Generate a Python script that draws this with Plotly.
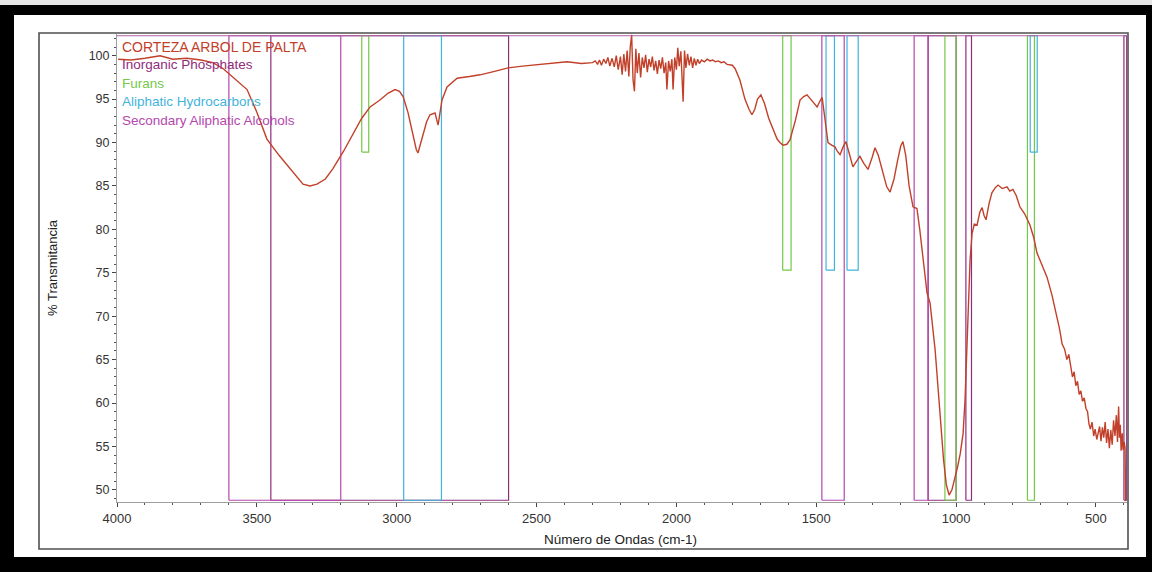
import plotly.graph_objects as go

# ---------------- data ----------------
wavenumber = [
    3996, 3950, 3900, 3846, 3800, 3750, 3700, 3657, 3620, 3596, 3565, 3535, 3500, 3464, 3420,
    3381, 3350, 3335, 3310, 3285, 3255, 3228, 3190, 3156, 3125, 3095, 3060, 3030, 3006, 2990,
    2977, 2960, 2942, 2930, 2924, 2915, 2906, 2893, 2881, 2863, 2852, 2845, 2838, 2820, 2800,
    2784, 2740, 2702, 2650, 2602, 2550, 2488, 2440, 2391, 2340,
    2300, 2290, 2282, 2275, 2268, 2260, 2252, 2245, 2238, 2230, 2222, 2215, 2208, 2200, 2194,
    2188, 2182, 2176, 2170, 2165, 2160, 2155, 2150, 2145, 2140, 2134, 2128, 2122, 2116, 2110,
    2104, 2098, 2092, 2086, 2080, 2074, 2068, 2062, 2056, 2050, 2044, 2038, 2034, 2028, 2022,
    2016, 2012, 2006, 2000, 1995, 1990, 1984, 1980, 1976, 1971, 1966, 1960, 1954, 1948, 1942,
    1936, 1930, 1924, 1918, 1910, 1900, 1890, 1880, 1870, 1860, 1850, 1840, 1830, 1819,
    1800, 1790, 1773, 1755, 1740, 1730, 1720, 1710, 1698, 1685, 1670, 1655, 1640, 1630, 1619,
    1605, 1594, 1575, 1558, 1545, 1533, 1515, 1497, 1488, 1479, 1470, 1458, 1445, 1433, 1425,
    1415, 1404, 1394, 1380, 1369, 1355, 1344, 1330, 1315, 1300, 1290, 1278, 1262, 1248, 1236,
    1222, 1210, 1198, 1190, 1180, 1168, 1154, 1147, 1140, 1130, 1122, 1104, 1093, 1075, 1058,
    1045, 1035, 1025, 1015, 1005, 995, 985, 975, 968, 961, 950, 943, 935, 925, 915, 907, 900,
    893, 882, 872, 860, 850, 835, 818, 808, 797, 785, 772, 755, 736, 722, 711, 693, 675, 657,
    639, 630, 621, 612, 604, 597, 590, 584, 578, 572, 566, 560, 554, 548, 542, 536, 530, 525,
    520, 514, 508, 503, 497, 492, 487, 482, 477, 472, 467, 462, 457, 452, 447, 442, 437, 432,
    427, 423, 419, 416, 413, 410, 406, 403, 399, 396, 394,
]
transmittance = [
    99.6, 99.5, 99.7, 100.0, 99.6, 99.7, 99.5, 99.2, 98.5, 97.8, 97.0, 96.1, 93.5, 90.4, 88.5,
    87.0, 85.8, 85.2, 85.0, 85.2, 85.8, 87.0, 89.0, 91.0, 92.8, 94.1, 94.9, 95.7, 96.1, 95.9,
    95.3, 93.5, 91.1, 89.2, 88.8, 89.8, 91.0, 92.4, 93.2, 93.4, 92.0, 93.5, 94.9, 96.4, 97.0,
    97.4, 97.6, 97.8, 98.2, 98.6, 98.8, 99.0, 99.1, 99.3, 99.1,
    99.2, 99.4, 99.0, 99.5, 98.9, 99.6, 99.1, 99.8, 98.8, 99.7, 98.7, 100.0, 98.4, 99.9, 97.8,
    100.2, 98.2, 100.6, 97.6, 101.0, 102.4, 97.2, 95.9, 100.8, 98.0, 100.3, 97.5, 99.8, 98.6, 100.1,
    98.1, 99.6, 98.7, 99.9, 98.3, 99.4, 97.9, 99.5, 98.5, 99.8, 98.0, 99.2, 96.1, 99.4, 98.2,
    99.6, 96.1, 99.8, 98.4, 100.9, 98.8, 100.5, 97.9, 94.7, 100.6, 98.6, 100.2, 98.9, 99.9, 98.6,
    99.7, 98.9, 99.6, 99.1, 99.5, 99.3, 99.6, 99.4, 99.5, 99.3, 99.4, 99.2, 99.3, 99.0,
    98.9, 98.5, 97.2, 95.0, 93.8, 93.2, 93.8, 95.0, 95.5, 94.5, 92.8, 91.5, 90.4, 90.0, 89.7,
    89.8, 90.3, 92.5, 94.9, 95.3, 95.5, 94.8, 94.1, 94.7, 95.2, 93.0, 90.0, 89.7, 89.5, 89.0,
    88.6, 89.5, 90.1, 88.5, 87.2, 87.9, 88.4, 87.6, 86.9, 88.3, 89.4, 88.5, 86.4, 84.9, 84.3,
    85.8, 87.8, 89.6, 90.1, 88.5, 85.0, 82.6, 82.5, 82.4, 80.0, 77.6, 72.7, 71.5, 66.1, 59.0,
    53.5, 50.6, 49.4, 50.0, 51.2, 52.6, 54.2, 56.5, 60.4, 66.1, 76.5, 79.5, 80.6, 80.5, 82.0, 82.5,
    81.6, 81.1, 83.0, 84.2, 84.8, 85.1, 84.7, 84.9, 84.4, 84.6, 83.9, 82.6, 81.8, 80.5, 79.0,
    77.3, 75.8, 74.5, 72.4, 69.9, 68.5, 66.8, 66.2, 65.0, 65.6, 64.2, 63.0, 63.6, 62.0, 62.5,
    61.0, 61.4, 60.2, 60.6, 59.4, 59.0, 57.6, 57.0, 57.8, 56.2, 57.0, 55.8, 56.6, 57.3, 55.6,
    57.2, 56.0, 57.8, 55.4, 57.0, 54.8, 56.9, 55.2, 58.0, 56.2, 58.6, 55.5, 59.6, 56.0, 57.5,
    54.5, 56.5, 54.6, 55.5, 54.8, 48.7,
]

# assignment bands (functional-group regions)
band_group = [
    "Secondary Aliphatic Alcohols", "Inorganic Phosphates", "Furans", "Aliphatic Hydrocarbons",
    "Secondary Aliphatic Alcohols", "Furans", "Aliphatic Hydrocarbons", "Aliphatic Hydrocarbons",
    "Secondary Aliphatic Alcohols", "Inorganic Phosphates", "Furans", "Inorganic Phosphates",
    "Furans", "Aliphatic Hydrocarbons", "Inorganic Phosphates",
]
band_start = [3600, 3450, 3125, 2975, 1480, 1620, 1465, 1390, 1150, 1100, 1040, 965, 745, 735, 400]
band_end = [3200, 2600, 3100, 2840, 1400, 1590, 1435, 1350, 1100, 1000, 1000, 945, 720, 710, 390]
band_floor = [48.8, 48.8, 88.9, 48.8, 48.8, 75.3, 75.3, 75.3, 48.8, 48.8, 48.8, 48.8, 48.8, 88.9, 48.8]
band_top = 102.3

series_name = "CORTEZA ARBOL DE PALTA"
legend_order = ["Inorganic Phosphates", "Furans", "Aliphatic Hydrocarbons", "Secondary Aliphatic Alcohols"]

x_ticks = [4000, 3500, 3000, 2500, 2000, 1500, 1000, 500]
y_ticks = [50, 55, 60, 65, 70, 75, 80, 85, 90, 95, 100]

# ---------------- style ----------------
FONT = "Liberation Sans, Arial, sans-serif"
colors = {
    series_name: "#c2402a",
    "Inorganic Phosphates": "#8f2d7c",
    "Furans": "#74c94a",
    "Aliphatic Hydrocarbons": "#3fb4dc",
    "Secondary Aliphatic Alcohols": "#b548ad",
}
W, H = 1152, 572
L, R, T, B = 117, 25, 34, 70
PW, PH = W - L - R, H - T - B


def px(x):
    return (x - L) / PW


def py(y):
    return (H - B - y) / PH


fig = go.Figure()

# bands
for grp in legend_order:
    xs, ys = [], []
    for g, a, b, f in zip(band_group, band_start, band_end, band_floor):
        if g != grp:
            continue
        xs += [a, a, b, b, a, None]
        ys += [f, band_top, band_top, f, f, None]
    fig.add_trace(go.Scatter(x=xs, y=ys, mode="lines", name=grp,
                             line=dict(color=colors[grp], width=1.2),
                             hoverinfo="skip", showlegend=False))

# spectrum
fig.add_trace(go.Scatter(x=wavenumber, y=transmittance, mode="lines", name=series_name,
                         line=dict(color=colors[series_name], width=1.4), showlegend=False))

# top line of the band box
fig.add_shape(type="line", xref="x", yref="y", x0=4000, x1=389, y0=band_top, y1=band_top,
              line=dict(color="#b060a8", width=1.2))

# text legend
legend_items = [series_name] + legend_order
for i, name in enumerate(legend_items):
    fig.add_annotation(xref="paper", yref="paper", x=px(120), y=py(46.5 + i * 18.4),
                       xanchor="left", yanchor="middle", showarrow=False,
                       text=name, font=dict(family=FONT, size=14 if i == 0 else 13.5,
                                            color=colors[name]))

# axis titles
fig.add_annotation(xref="paper", yref="paper", x=px(620), y=py(539), showarrow=False,
                   text="Número de Ondas (cm-1)", xanchor="center", yanchor="middle",
                   font=dict(family=FONT, size=13.5, color="#222"))
fig.add_annotation(xref="paper", yref="paper", x=px(52), y=py(268), showarrow=False,
                   text="% Transmitancia", textangle=-90, xanchor="center", yanchor="middle",
                   font=dict(family=FONT, size=13, color="#222"))

# page frame and scanned black border
shapes = [
    dict(type="rect", x0=px(39), x1=px(1128), y0=py(549), y1=py(33),
         line=dict(color="#505050", width=1.6), fillcolor="rgba(0,0,0,0)"),
    dict(type="rect", x0=px(0), x1=px(W), y0=py(5), y1=py(0), line=dict(width=0), fillcolor="#e6e6e6"),
    dict(type="rect", x0=px(0), x1=px(W), y0=py(15), y1=py(5), line=dict(width=0), fillcolor="#000"),
    dict(type="rect", x0=px(0), x1=px(14), y0=py(H), y1=py(5), line=dict(width=0), fillcolor="#000"),
    dict(type="rect", x0=px(1146), x1=px(W), y0=py(H), y1=py(5), line=dict(width=0), fillcolor="#000"),
    dict(type="rect", x0=px(0), x1=px(W), y0=py(H), y1=py(557), line=dict(width=0), fillcolor="#000"),
]
for s in shapes:
    s.update(xref="paper", yref="paper")
    fig.add_shape(**s)

fig.update_layout(
    width=W, height=H, margin=dict(l=L, r=R, t=T, b=B),
    paper_bgcolor="white", plot_bgcolor="white",
    font=dict(family=FONT, color="#333"),
    xaxis=dict(range=[4000, 389], tickvals=x_ticks, ticks="outside", ticklen=4, tickwidth=1.2,
               tickcolor="#444", showline=True, linecolor="#a0a0a0", linewidth=1,
               showgrid=False, zeroline=False, tickfont=dict(size=13, color="#333"),
               minor=dict(dtick=100, ticks="outside", ticklen=2, tickcolor="#555", showgrid=False)),
    yaxis=dict(range=[48.6, 102.5], tickvals=y_ticks, ticks="outside", ticklen=4, tickwidth=1.2,
               tickcolor="#444", showline=True, linecolor="#a0a0a0", linewidth=1,
               showgrid=False, zeroline=False, tickfont=dict(size=12.5, color="#333"),
               minor=dict(dtick=1, ticks="outside", ticklen=2, tickcolor="#555", showgrid=False)),
)

fig.write_html("out.html")
